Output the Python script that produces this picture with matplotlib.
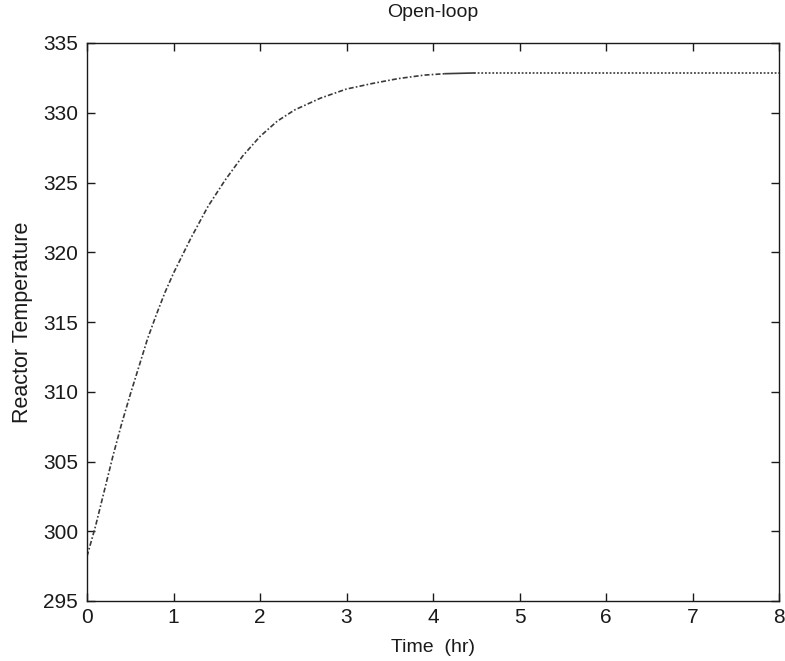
import numpy as np
import matplotlib
matplotlib.use("Agg")
import matplotlib.pyplot as plt

plt.rcParams['font.family'] = ['Liberation Sans', 'DejaVu Sans']

# open-loop reactor temperature response (hr, K)
t_rise = [0.0, 0.1, 0.2, 0.3, 0.4, 0.5, 0.6, 0.7, 0.8, 0.9,
          1.0, 1.2, 1.4, 1.6, 1.8, 2.0, 2.2, 2.4, 2.7, 3.0,
          3.3, 3.6, 3.9, 4.14]
T_rise = [298.2, 300.4, 302.9, 305.4, 307.7, 309.8, 311.8, 313.8, 315.5, 317.1,
          318.5, 321.0, 323.3, 325.2, 326.9, 328.3, 329.4, 330.2, 331.05, 331.7,
          332.1, 332.45, 332.7, 332.8]
t_flat = [4.14, 4.47]
T_flat = [332.8, 332.85]
t_ss = [4.47, 8.0]
T_ss = [332.85, 332.85]

xticks = np.arange(0, 9, 1)
yticks = np.arange(295, 336, 5)

ink = '#1a1a1a'
line_col = '#3a3a3a'
fig = plt.figure(figsize=(7.85, 6.61), dpi=100)
ax = fig.add_axes([87/785, 60/661, 692/785, 558/661])

ax.plot(t_rise, T_rise, color=line_col, lw=1.2, linestyle=(0, (3, 1.3, 1, 1.3)))
ax.plot(t_flat, T_flat, color=line_col, lw=1.2, linestyle='-')
ax.plot(t_ss, T_ss, color=line_col, lw=1.2, linestyle=(0, (1.1, 1.1)))

ax.set_xlim(0, 8)
ax.set_ylim(295, 335)
ax.set_xticks(xticks)
ax.set_yticks(yticks)
ax.tick_params(direction='in', top=True, right=True, length=6, width=1,
               colors=ink, labelsize=15)
ax.tick_params(axis='x', pad=5)
ax.tick_params(axis='y', pad=6.5)
for s in ax.spines.values():
    s.set_color(ink)
    s.set_linewidth(1.0)

ax.set_title('Open-loop', fontsize=14, color=ink, pad=19)
ax.set_xlabel('Time  (hr)', fontsize=14, color=ink, labelpad=9)
ax.set_ylabel('Reactor Temperature', fontsize=15.5, color=ink, labelpad=7)

fig.savefig('out.png', dpi=100, facecolor='white')
